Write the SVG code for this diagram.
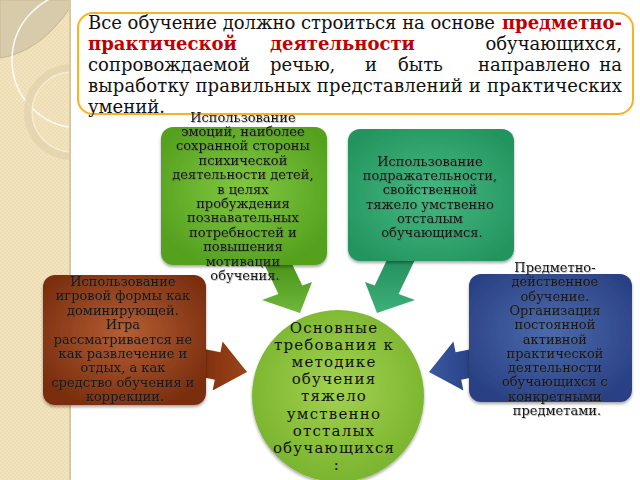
<svg xmlns="http://www.w3.org/2000/svg" width="640" height="480" viewBox="0 0 640 480">
<style>
.t{font-family:"DejaVu Serif","Liberation Serif",serif;fill:#111;}
.top{font-size:18px;}
.red{font-weight:bold;fill:#c00000;}
.s{font-size:13px;text-anchor:middle;fill:#141414;filter:url(#tsh);}
.c{font-size:15px;letter-spacing:1.2px;text-anchor:middle;fill:#111;}
.box{filter:url(#sh);}
</style>
<defs>
<pattern id="tex" width="4" height="4" patternUnits="userSpaceOnUse">
<rect width="4" height="4" fill="#f3e4c0"/>
<rect width="2" height="2" fill="#eedcb3"/>
<rect x="2" y="2" width="2" height="2" fill="#eedcb3"/>
</pattern>
<clipPath id="strip"><rect x="0" y="0" width="70" height="480"/></clipPath>
<filter id="sh" x="-10%" y="-10%" width="120%" height="125%">
<feDropShadow dx="0" dy="2" stdDeviation="1.5" flood-color="#000" flood-opacity="0.35"/>
</filter>
<filter id="tsh" x="-10%" y="-20%" width="120%" height="140%">
<feDropShadow dx="0.8" dy="0.8" stdDeviation="0.4" flood-color="#555" flood-opacity="0.45"/>
</filter>
<radialGradient id="gGreen" cx="50%" cy="45%" r="60%">
<stop offset="0" stop-color="#80c840"/><stop offset="1" stop-color="#54a01e"/>
</radialGradient>
<radialGradient id="gTeal" cx="50%" cy="50%" r="60%">
<stop offset="0" stop-color="#45b982"/><stop offset="1" stop-color="#24955f"/>
</radialGradient>
<radialGradient id="gBrown" cx="50%" cy="45%" r="60%">
<stop offset="0" stop-color="#b65e34"/><stop offset="1" stop-color="#7a2e0e"/>
</radialGradient>
<radialGradient id="gBlue" cx="50%" cy="45%" r="60%">
<stop offset="0" stop-color="#4b6aac"/><stop offset="1" stop-color="#2a4184"/>
</radialGradient>
<radialGradient id="gCirc" cx="50%" cy="45%" r="55%">
<stop offset="0" stop-color="#a3d250"/><stop offset="1" stop-color="#7ab42e"/>
</radialGradient>
<linearGradient id="aGreen" x1="0" y1="0" x2="0" y2="1">
<stop offset="0" stop-color="#3f8a12"/><stop offset="1" stop-color="#6fb83a"/>
</linearGradient>
<linearGradient id="aTeal" x1="0" y1="0" x2="0" y2="1">
<stop offset="0" stop-color="#1f8a58"/><stop offset="1" stop-color="#3fb07a"/>
</linearGradient>
<linearGradient id="aBrown" x1="0" y1="0" x2="1" y2="0">
<stop offset="0" stop-color="#7a2c0c"/><stop offset="1" stop-color="#9c4418"/>
</linearGradient>
<linearGradient id="aBlue" x1="0" y1="0" x2="1" y2="0">
<stop offset="0" stop-color="#243b7e"/><stop offset="1" stop-color="#3a58a0"/>
</linearGradient>
</defs>

<rect x="0" y="0" width="640" height="480" fill="#ffffff"/>
<g id="background">
<rect x="0" y="0" width="70" height="480" fill="url(#tex)"/>
<g clip-path="url(#strip)">
<path d="M0,0 H70 V8 Q40,52 0,58 Z" fill="#d8cbac" stroke="#c8b890" stroke-width="1"/>
<circle cx="80" cy="60" r="68" fill="none" stroke="#ffffff" stroke-width="1.5" opacity="0.9"/>
<circle cx="72" cy="112" r="44" fill="none" stroke="#e2d2ac" stroke-width="8" opacity="0.8"/>
<circle cx="72" cy="112" r="40" fill="none" stroke="#f8f0dc" stroke-width="1.5" opacity="0.8"/>
</g>
<rect x="69" y="0" width="2" height="480" fill="#d6c9a8"/>
</g>

<g id="connectors">
<polygon id="arrow-green" points="257.4,250 285.4,250 302.3,285.5 312,282 300,313 262,300 278.4,294.1" fill="url(#aGreen)"/>
<polygon id="arrow-teal" transform="translate(677,0) scale(-1,1)" points="257.4,250 285.4,250 302.3,285.5 312,282 300,313 262,300 278.4,294.1" fill="url(#aTeal)"/>
<polygon id="arrow-brown" points="197.8,347.7 220.4,352.3 222.6,341.5 247,372 212.6,390.5 214.8,379.7 192.2,375.1" fill="url(#aBrown)"/>
<polygon id="arrow-blue" transform="translate(676,0) scale(-1,1)" points="197.8,347.7 220.4,352.3 222.6,341.5 247,372 212.6,390.5 214.8,379.7 192.2,375.1" fill="url(#aBlue)"/>
</g>

<g id="node-top">
<rect x="78" y="13" width="555" height="101" rx="15" fill="#ffffff" stroke="#f7b322" stroke-width="2"/>
<text class="t top" x="88" y="28.5" textLength="407" lengthAdjust="spacing">Все обучение должно строиться на основе</text>
<text class="t top red" x="622" y="28.5" text-anchor="end">предметно-</text>
<text class="t top red" x="88" y="49.5">практической</text>
<text class="t top red" x="270" y="49.5">деятельности</text>
<text class="t top" x="622" y="49.5" text-anchor="end">обучающихся,</text>
<text class="t top" x="88" y="70.5">сопровождаемой</text>
<text class="t top" x="270" y="70.5">речью,</text>
<text class="t top" x="365" y="70.5">и</text>
<text class="t top" x="398" y="70.5">быть</text>
<text class="t top" x="478" y="70.5">направлено</text>
<text class="t top" x="622" y="70.5" text-anchor="end">на</text>
<text class="t top" x="88" y="91.5" textLength="534" lengthAdjust="spacing">выработку правильных представлений и практических</text>
<text class="t top" x="88" y="112.5">умений.</text>
</g>

<g id="node-green">
<rect class="box" x="161" y="127" width="166" height="138" rx="12" fill="url(#gGreen)"/>
<text class="t s">
<tspan x="245" y="121.5">Использование</tspan>
<tspan x="245" y="135.9">эмоций, наиболее</tspan>
<tspan x="245" y="150.3">сохранной стороны</tspan>
<tspan x="245" y="164.7">психической</tspan>
<tspan x="245" y="179.1">деятельности детей,</tspan>
<tspan x="245" y="193.5">в целях</tspan>
<tspan x="245" y="207.9">пробуждения</tspan>
<tspan x="245" y="222.3">познавательных</tspan>
<tspan x="245" y="236.7">потребностей и</tspan>
<tspan x="245" y="251.1">повышения</tspan>
<tspan x="245" y="265.5">мотивации</tspan>
<tspan x="245" y="279.9">обучения.</tspan>
</text>
</g>

<g id="node-teal">
<rect class="box" x="348" y="129" width="166" height="132" rx="12" fill="url(#gTeal)"/>
<text class="t s">
<tspan x="432" y="166">Использование</tspan>
<tspan x="432" y="180.2">подражательности,</tspan>
<tspan x="432" y="194.4">свойственной</tspan>
<tspan x="432" y="208.6">тяжело умственно</tspan>
<tspan x="432" y="222.8">отсталым</tspan>
<tspan x="432" y="237">обучающимся.</tspan>
</text>
</g>

<g id="node-brown">
<rect class="box" x="43" y="275" width="163" height="130" rx="12" fill="url(#gBrown)"/>
<text class="t s">
<tspan x="125" y="286">Использование</tspan>
<tspan x="125" y="300.4">игровой формы как</tspan>
<tspan x="125" y="314.8">доминирующей.</tspan>
<tspan x="125" y="329.2">Игра</tspan>
<tspan x="125" y="343.6">рассматривается не</tspan>
<tspan x="125" y="358">как развлечение и</tspan>
<tspan x="125" y="372.4">отдых, а как</tspan>
<tspan x="125" y="386.8">средство обучения и</tspan>
<tspan x="125" y="401.2">коррекции.</tspan>
</text>
</g>

<g id="node-blue">
<rect class="box" x="469" y="274" width="163" height="128" rx="12" fill="url(#gBlue)"/>
<text class="t s">
<tspan x="557" y="272">Предметно-</tspan>
<tspan x="557" y="286.3">действенное</tspan>
<tspan x="557" y="300.6">обучение.</tspan>
<tspan x="557" y="314.9">Организация</tspan>
<tspan x="557" y="329.2">постоянной</tspan>
<tspan x="557" y="343.5">активной</tspan>
<tspan x="557" y="357.8">практической</tspan>
<tspan x="557" y="372.1">деятельности</tspan>
<tspan x="557" y="386.4">обучающихся с</tspan>
<tspan x="557" y="400.7">конкретными</tspan>
<tspan x="557" y="415">предметами.</tspan>
</text>
</g>

<g id="node-center">
<circle class="box" cx="338" cy="396" r="86" fill="url(#gCirc)"/>
<text class="t c">
<tspan x="337" y="333">Основные</tspan>
<tspan x="337" y="350.1">требования к</tspan>
<tspan x="337" y="367.2">методике</tspan>
<tspan x="337" y="384.3">обучения</tspan>
<tspan x="337" y="401.4">тяжело</tspan>
<tspan x="337" y="418.5">умственно</tspan>
<tspan x="337" y="435.6">отсталых</tspan>
<tspan x="337" y="452.7">обучающихся</tspan>
<tspan x="337" y="469.8">:</tspan>
</text>
</g>
</svg>
